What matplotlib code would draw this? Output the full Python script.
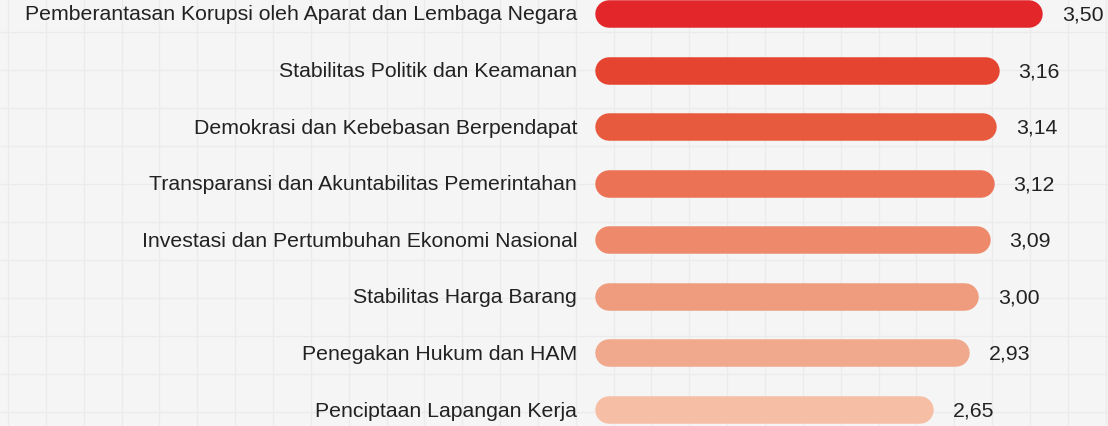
import numpy as np
import matplotlib
matplotlib.use("Agg")
import matplotlib.pyplot as plt

# data
labels = [
    "Pemberantasan Korupsi oleh Aparat dan Lembaga Negara",
    "Stabilitas Politik dan Keamanan",
    "Demokrasi dan Kebebasan Berpendapat",
    "Transparansi dan Akuntabilitas Pemerintahan",
    "Investasi dan Pertumbuhan Ekonomi Nasional",
    "Stabilitas Harga Barang",
    "Penegakan Hukum dan HAM",
    "Penciptaan Lapangan Kerja",
]
values = [3.50, 3.16, 3.14, 3.12, 3.09, 3.00, 2.93, 2.65]
colors = ["#e3262a", "#e54530", "#e85a3e", "#eb7254",
          "#ee8a6b", "#ef9b7e", "#f0a98d", "#f5bea5"]

W, H, DPI = 1108, 427, 100
fig = plt.figure(figsize=(W / DPI, H / DPI), dpi=DPI)
fig.patch.set_facecolor("#f5f5f5")

# background grid paper
bg = fig.add_axes([0, 0, 1, 1])
bg.set_xlim(0, W)
bg.set_ylim(H, 0)
bg.axis("off")
bg.vlines(np.arange(8, W, 37.85), 0, H, color="#ebebeb", lw=1.0)
bg.hlines(np.arange(-5.3, H, 38.0), 0, W, color="#ebebeb", lw=1.0)

ax = fig.add_axes([0, 0, 1, 1], facecolor="none")
px = 128.0  # pixels per unit
x0 = 595.0
ax.set_xlim(-x0 / px, (W - x0) / px)
step = 56.6
ax.set_ylim(7 + (H - 411) / step, -15 / step)
ax.axis("off")

bar_px = 27.5
r = bar_px / 2 / px
lw = bar_px * 72 / DPI
font = "Liberation Sans"
for i, (lab, v, c) in enumerate(zip(labels, values, colors)):
    ax.plot([r, v - r], [i, i], color=c, lw=lw, solid_capstyle="round")
    ax.text(-18 / px, i, lab, ha="right", va="center", fontsize=15.3,
            color="#222222", family=font)
    ax.text(v + 19 / px, i, f"{v:.2f}".replace(".", ","), ha="left",
            va="center", fontsize=15.3, color="#222222", family=font)

fig.savefig("out.png", dpi=DPI, facecolor=fig.get_facecolor())
